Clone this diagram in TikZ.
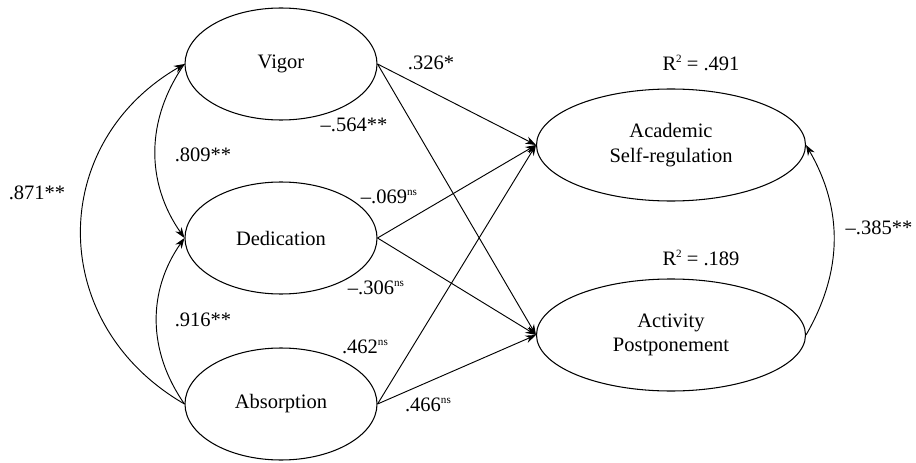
\documentclass[tikz,border=0pt]{standalone}
\usepackage{fontspec}
\setmainfont{Liberation Serif}
\usetikzlibrary{arrows.meta,shapes.geometric}
\newcommand{\supsm}[1]{\raisebox{0.9ex}{\fontsize{9.5}{10}\selectfont #1}}
\tikzset{
  latent/.style={
    ellipse, draw, line width=0.9pt,
    minimum width=5.76cm, minimum height=3.36cm,
    inner sep=0pt, align=center
  },
  coef/.style={
    inner sep=1pt
  }
}

\begin{document}
\begin{tikzpicture}[font=\fontsize{17.5}{21}\selectfont]
    \useasboundingbox (0,0) rectangle (27.48,-13.89);
    \begin{scope}[every node/.style={latent}]
        \node (V) at (8.43,-1.92) {Vigor};
        \node (D) at (8.43,-7.14) {Dedication};
        \node (A) at (8.43,-12.12) {Absorption};

        \node[minimum width=8.07cm] (SR) at (20.13,-4.35) {Academic\\Self-regulation};
        \node[minimum width=8.07cm] (AP) at (20.13,-10.05) {Activity\\Postponement};
    \end{scope}
    \begin{scope}[>={Stealth[length=9pt,width=6.5pt]},line width=0.8pt]
        \draw [->] (V.east) -- (SR.west);
        \draw [->] (V.east) -- (AP.west);
        \draw [->] (D.east) -- (SR.west);
        \draw [->] (D.east) -- (AP.west);
        \draw [->] (A.east) -- (SR.west);
        \draw [->] (A.east) -- (AP.west);
        % correlations on the left
        \draw [->] (V.west) to[out=-125,in=125] (D.west);
        \draw [->] (A.west) to[out=125,in=-125] (D.west);
        \draw [->] (A.west) to[out=150,in=210,looseness=1.2] (V.west);
        % right side
        \draw [->] (AP.east) to[out=60,in=-60] (SR.east);
    \end{scope}
    \begin{scope}[every node/.style={coef}]
        \node (c1) at (12.93,-1.89) {.326*};
        \node (c2) at (10.62,-3.75) {--.564**};
        \node (c3) at (6.09,-4.65) {.809**};
        \node (c4) at (1.11,-5.79) {.871**};
        \node (c5) at (11.67,-5.91) {--.069\supsm{ns}};
        \node (c6) at (11.28,-8.64) {--.306\supsm{ns}};
        \node (c7) at (6.09,-9.60) {.916**};
        \node (c8) at (10.95,-10.41) {.462\supsm{ns}};
        \node (c9) at (12.84,-12.15) {.466\supsm{ns}};
        \node (c10) at (26.37,-6.84) {--.385**};
        \node (r1) at (21.03,-1.89) {R\supsm{2} = .491};
        \node (r2) at (21.03,-7.74) {R\supsm{2} = .189};
    \end{scope}
\end{tikzpicture}
\end{document}
